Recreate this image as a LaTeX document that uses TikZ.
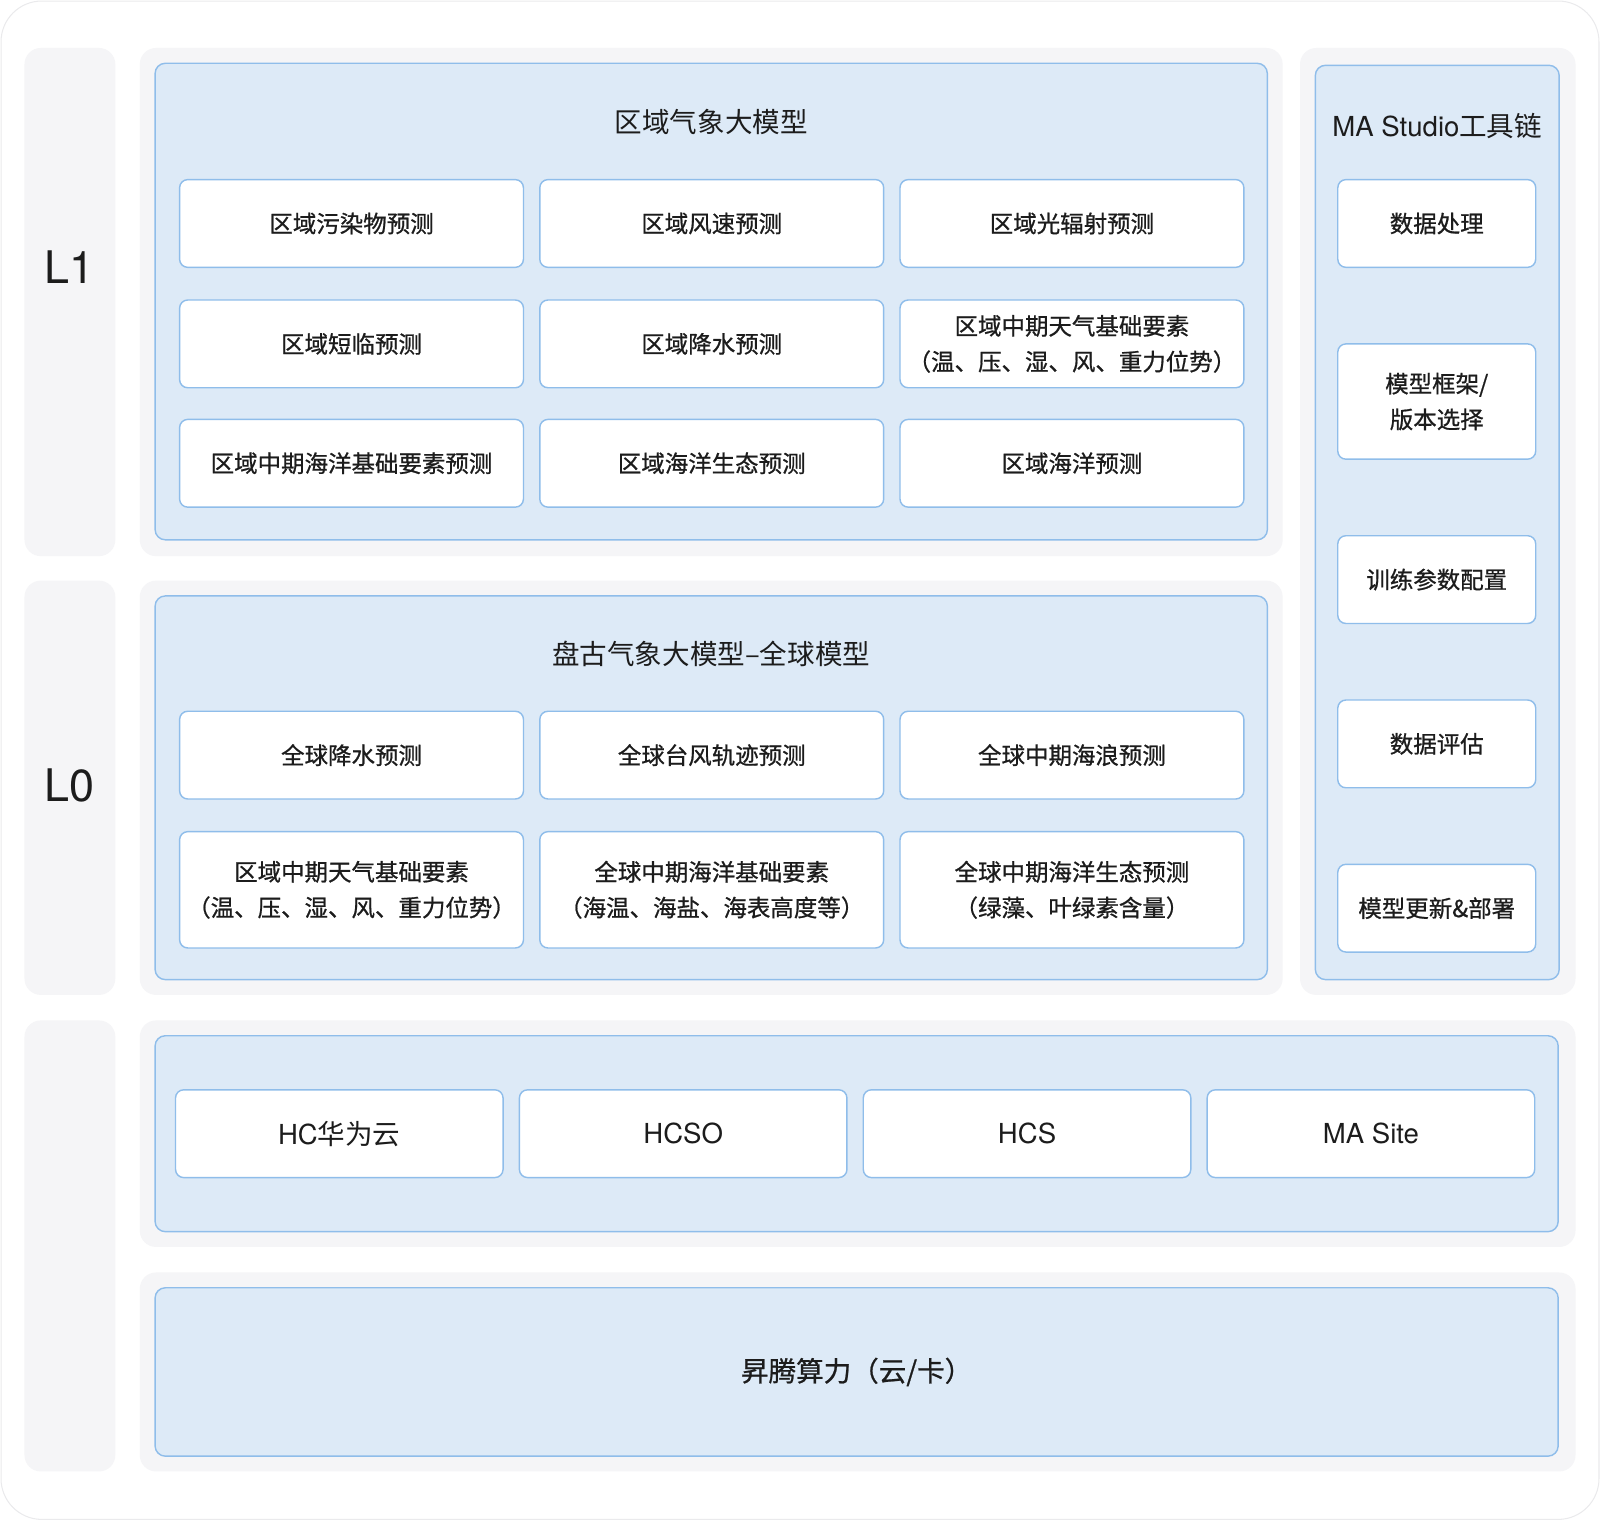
\documentclass[tikz,border=0pt]{standalone}
\usepackage{fontspec}
\setmainfont{Noto Sans CJK SC}
\newfontfamily\cellfont{Noto Sans CJK SC}[FakeBold=0.8]
\newfontfamily\heros{TeX Gyre Heros}
\usepackage{xcolor}
\definecolor{cardline}{HTML}{EAEAEC}
\definecolor{panelgray}{HTML}{F5F5F7}
\definecolor{skyfill}{HTML}{DDEAF7}
\definecolor{skyline}{HTML}{8FBDEA}
\definecolor{inkdark}{HTML}{1C1C1C}

\tikzset{
  panel/.style={fill=panelgray, rounded corners=8pt, inner sep=0pt, outer sep=0pt},
  layer/.style={fill=skyfill, draw=skyline, line width=0.7pt, rounded corners=5pt, inner sep=0pt},
  cell/.style={fill=white, draw=skyline, line width=0.7pt, rounded corners=4pt, inner sep=0pt,
    minimum width=168.5pt, minimum height=43pt, align=center, text=inkdark,
    font=\cellfont\fontsize{11.5}{17.5}\selectfont},
  toolcell/.style={cell, minimum width=97pt},
  basecell/.style={cell, minimum width=160.5pt, font=\fontsize{13.5}{16}\selectfont},
  title/.style={text=inkdark, font=\fontsize{13.5}{16}\selectfont},
  tag/.style={text=inkdark, font=\heros\fontsize{22}{26}\selectfont},
}

\begin{document}
\begin{tikzpicture}[x=0.5pt, y=-0.5pt]
  \useasboundingbox (0,0) rectangle (1568,1490);
  \node[fill=white, draw=cardline, line width=0.5pt, rounded corners=20pt, inner sep=0pt,
        minimum width=783pt, minimum height=744pt] (card) at (784,745) {};

  % gray panels
  \node[panel, minimum width=44.5pt, minimum height=249pt] (tagA) at (68.5,296) {};
  \node[panel, minimum width=44.5pt, minimum height=203pt] (tagB) at (68.5,772) {};
  \node[panel, minimum width=44.5pt, minimum height=221pt] (tagC) at (68.5,1221) {};
  \node[panel, minimum width=560pt, minimum height=249pt] (panelA) at (697,296) {};
  \node[panel, minimum width=560pt, minimum height=203pt] (panelB) at (697,772) {};
  \node[panel, minimum width=135pt, minimum height=464pt] (panelT) at (1409,511) {};
  \node[panel, minimum width=703.5pt, minimum height=111pt] (panelC) at (840.5,1111) {};
  \node[panel, minimum width=703.5pt, minimum height=97.5pt] (panelD) at (840.5,1344.5) {};

  \node[tag] (lone) at (68.5,262) {L1};
  \node[tag] (lzero) at (68.5,770) {L0};

  % blue layers
  \node[layer, minimum width=545pt, minimum height=233.5pt] (regional) at (697,295.5) {};
  \node[layer, minimum width=545pt, minimum height=188pt] (global) at (697,772) {};
  \node[layer, minimum width=119.5pt, minimum height=448pt] (studio) at (1408.5,512) {};
  \node[layer, minimum width=687.5pt, minimum height=96pt] (cloud) at (839.5,1111) {};
  \node[layer, minimum width=687.5pt, minimum height=82.5pt] (ascend) at (839.5,1344.5) {};

  \node[title] (regionalT) at (697,120) {区域气象大模型};
  \node[title] (globalT) at (697,641) {盘古气象大模型–全球模型};
  \node[title] (studioT) at (1408.5,123) {{\heros MA Studio}工具链};
  \node[title, font=\cellfont\fontsize{13.5}{16}\selectfont] (ascendT) at (ascend) {昇腾算力（云/卡）};

  % L1 cells
  \node[cell] (r11) at (344.5,219) {区域污染物预测};
  \node[cell] (r12) at (697.5,219) {区域风速预测};
  \node[cell] (r13) at (1050.5,219) {区域光辐射预测};
  \node[cell] (r21) at (344.5,337) {区域短临预测};
  \node[cell] (r22) at (697.5,337) {区域降水预测};
  \node[cell] (r23) at (1050.5,337) {区域中期天气基础要素\\（温、压、湿、风、重力位势）};
  \node[cell] (r31) at (344.5,454) {区域中期海洋基础要素预测};
  \node[cell] (r32) at (697.5,454) {区域海洋生态预测};
  \node[cell] (r33) at (1050.5,454) {区域海洋预测};

  % L0 cells
  \node[cell] (g11) at (344.5,740) {全球降水预测};
  \node[cell] (g12) at (697.5,740) {全球台风轨迹预测};
  \node[cell] (g13) at (1050.5,740) {全球中期海浪预测};
  \node[cell, minimum height=57pt] (g21) at (344.5,872) {区域中期天气基础要素\\（温、压、湿、风、重力位势）};
  \node[cell, minimum height=57pt] (g22) at (697.5,872) {全球中期海洋基础要素\\（海温、海盐、海表高度等）};
  \node[cell, minimum height=57pt] (g23) at (1050.5,872) {全球中期海洋生态预测\\（绿藻、叶绿素含量）};

  % toolchain
  \node[toolcell] (t1) at (1408,219) {数据处理};
  \node[toolcell, minimum height=56.5pt] (t2) at (1408,393.5) {模型框架/\\版本选择};
  \node[toolcell] (t3) at (1408,568) {训练参数配置};
  \node[toolcell] (t4) at (1408,729) {数据评估};
  \node[toolcell] (t5) at (1408,890) {模型更新\&部署};

  % cloud
  \node[basecell] (c1) at (332.5,1111) {{\heros HC}华为云};
  \node[basecell] (c2) at (669.5,1111) {\heros HCSO};
  \node[basecell] (c3) at (1006.5,1111) {\heros HCS};
  \node[basecell] (c4) at (1343.5,1111) {\heros MA Site};
\end{tikzpicture}
\end{document}
